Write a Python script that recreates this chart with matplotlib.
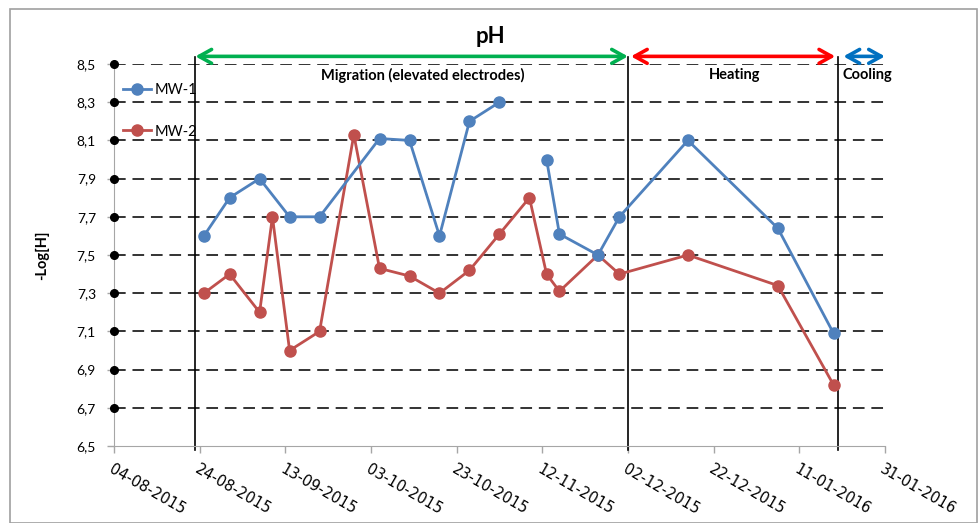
import matplotlib
matplotlib.use('Agg')
import matplotlib.pyplot as plt
import matplotlib.dates as mdates
import matplotlib.ticker as ticker
from matplotlib.patches import Rectangle
import numpy as np
import pandas as pd

plt.rcParams['font.family'] = ['Lato', 'DejaVu Sans']

# sampling dates / values
mw1_dates = ['2015-08-25', '2015-08-31', '2015-09-07', '2015-09-14', '2015-09-21',
             '2015-10-05', '2015-10-12', '2015-10-19', '2015-10-26', '2015-11-02',
             None,
             '2015-11-13', '2015-11-16', '2015-11-25', '2015-11-30', '2015-12-16',
             '2016-01-06', '2016-01-19']
mw1_vals = [7.60, 7.80, 7.90, 7.70, 7.70,
            8.11, 8.10, 7.60, 8.20, 8.30,
            np.nan,
            8.00, 7.61, 7.50, 7.70, 8.10,
            7.64, 7.09]

mw2_dates = ['2015-08-25', '2015-08-31', '2015-09-07', '2015-09-10', '2015-09-14',
             '2015-09-21', '2015-09-29', '2015-10-05', '2015-10-12', '2015-10-19',
             '2015-10-26', '2015-11-02', '2015-11-09', '2015-11-13', '2015-11-16',
             '2015-11-25', '2015-11-30', '2015-12-16', '2016-01-06', '2016-01-19']
mw2_vals = [7.30, 7.40, 7.20, 7.70, 7.00,
            7.10, 8.13, 7.43, 7.39, 7.30,
            7.42, 7.61, 7.80, 7.40, 7.31,
            7.50, 7.40, 7.50, 7.34, 6.82]

# phase boundaries
phase_edges = ['2015-08-23', '2015-12-02', '2016-01-20']
phase_names = ['Migration (elevated electrodes)', 'Heating', 'Cooling']
phase_label_x = ['2015-10-15', '2015-12-27', '2016-01-27']
phase_colors = ['#00B050', '#FF0000', '#0070C0']

x_start, x_end = '2015-08-04', '2016-01-31'
y_ticks = [6.5, 6.7, 6.9, 7.1, 7.3, 7.5, 7.7, 7.9, 8.1, 8.3, 8.5]

d = lambda s: pd.Timestamp(s) if s else pd.Timestamp('2015-11-05')

fig = plt.figure(figsize=(9.8, 5.23), dpi=100)
ax = fig.add_axes([0.1163, 0.1472, 0.7867, 0.7304])

xs, xe = mdates.date2num(d(x_start)), mdates.date2num(d(x_end))
ax.set_xlim(xs, xe)
ax.set_ylim(6.5, 8.5)

# dashed grid + black dots on the y axis
for y in y_ticks[1:]:
    ax.plot([xs, xe], [y, y], color='#333333', lw=1.4, dashes=(6, 3.5), zorder=1)
ax.plot([xs] * len(y_ticks[1:]), y_ticks[1:], 'o', color='black', ms=5.5, clip_on=False, zorder=5)

# phase separators
for e in phase_edges:
    ax.plot([d(e), d(e)], [6.48, 8.535], color='black', lw=1.2, clip_on=False, zorder=2)

# series
ax.plot([d(s) for s in mw1_dates], mw1_vals, '-o', color='#4F81BD', lw=2, ms=8, label='MW-1', zorder=4)
ax.plot([d(s) for s in mw2_dates], mw2_vals, '-o', color='#C0504D', lw=2, ms=8, label='MW-2', zorder=3)

# phase arrows
arrow_y = 8.54
spans = [(phase_edges[0], phase_edges[1], 0, 0),
         (phase_edges[1], phase_edges[2], 0.7, -0.6),
         (phase_edges[2], x_end, 1.3, 0)]
for (a, b, pa, pb), c in zip(spans, phase_colors):
    ax.annotate('', xy=(mdates.date2num(d(b)) + pb, arrow_y),
                xytext=(mdates.date2num(d(a)) + pa, arrow_y),
                arrowprops=dict(arrowstyle='<->,head_length=0.9,head_width=0.5',
                                color=c, lw=2.6, shrinkA=0, shrinkB=0,
                                mutation_scale=10),
                annotation_clip=False)

for name, px in zip(phase_names, phase_label_x):
    ax.text(d(px), 8.44, name, ha='center', va='center', fontsize=10.5, fontweight='bold')
ax.text(d('2015-10-31'), 8.645, 'pH', ha='center', va='center', fontsize=16, fontweight='bold')

# axes styling
for s in ['top', 'right']:
    ax.spines[s].set_visible(False)
for s in ['left', 'bottom']:
    ax.spines[s].set_color('#A6A6A6')
ax.set_yticks(y_ticks)
ax.yaxis.set_major_formatter(ticker.FuncFormatter(lambda v, p: ('%.1f' % v).replace('.', ',')))
ax.xaxis.set_major_locator(ticker.MultipleLocator(20, offset=xs % 20))
ax.xaxis.set_major_formatter(mdates.DateFormatter('%d-%m-%Y'))
ax.tick_params(axis='both', color='#A6A6A6', length=5, width=1)
ax.tick_params(axis='y', labelsize=10, pad=8)
ax.tick_params(axis='x', labelsize=10, pad=6)
for lab in ax.get_xticklabels():
    lab.set_rotation(-30)
    lab.set_ha('left')
    lab.set_va('top')
    lab.set_rotation_mode('anchor')
    lab.set_family('DejaVu Sans')
    lab.set_fontsize(10.5)

ax.set_ylabel('-Log[H]', fontsize=10.5, fontweight='bold', labelpad=20)

ax.legend(loc='upper left', bbox_to_anchor=(0.004, 0.966), frameon=False, fontsize=10.5,
          handlelength=1.9, handletextpad=0.3, labelspacing=1.9, borderaxespad=0)

# outer chart border
fig.patches.append(Rectangle((10 / 980, 0), 967 / 980, 514 / 523, transform=fig.transFigure,
                             fill=False, edgecolor='#A0A0A0', lw=1.2))

fig.savefig('out.png', dpi=100)
